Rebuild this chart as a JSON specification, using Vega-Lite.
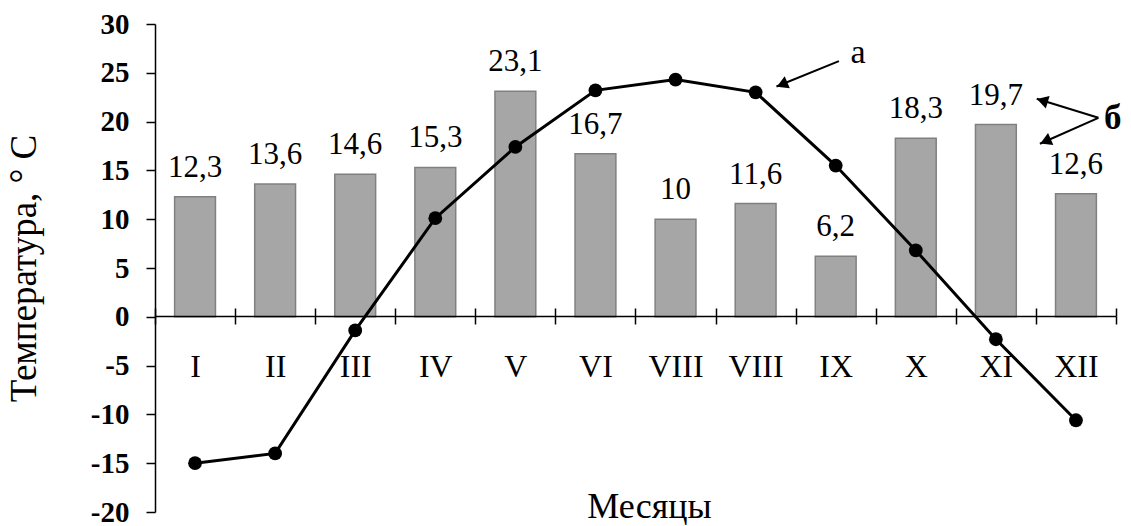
{
  "$schema": "https://vega.github.io/schema/vega-lite/v6.json",
  "width": 961,
  "height": 488,
  "autosize": "none",
  "padding": {"left": 155, "top": 24, "right": 15, "bottom": 14},
  "background": "white",
  "config": {"view": {"stroke": null}, "font": "Liberation Serif"},
  "datasets": {
    "months": [
      {"m": "I", "bar": 12.3, "lbl": "12,3", "t": -15.0},
      {"m": "II", "bar": 13.6, "lbl": "13,6", "t": -14.0},
      {"m": "III", "bar": 14.6, "lbl": "14,6", "t": -1.4},
      {"m": "IV", "bar": 15.3, "lbl": "15,3", "t": 10.1},
      {"m": "V", "bar": 23.1, "lbl": "23,1", "t": 17.4},
      {"m": "VI", "bar": 16.7, "lbl": "16,7", "t": 23.2},
      {"m": "VII", "bar": 10.0, "lbl": "10", "t": 24.3},
      {"m": "VIII", "bar": 11.6, "lbl": "11,6", "t": 23.0},
      {"m": "IX", "bar": 6.2, "lbl": "6,2", "t": 15.5},
      {"m": "X", "bar": 18.3, "lbl": "18,3", "t": 6.8},
      {"m": "XI", "bar": 19.7, "lbl": "19,7", "t": -2.3},
      {"m": "XII", "bar": 12.6, "lbl": "12,6", "t": -10.6}
    ],
    "notes": [
      {"id": "a", "x": 8.78, "y": 26.0, "txt": "а"},
      {"id": "b", "x": 11.96, "y": 19.2, "txt": "б"}
    ],
    "arrows": [
      {"id": "a", "x": 8.54, "y": 26.2, "x2": 7.76, "y2": 23.6},
      {"id": "b1", "x": 11.78, "y": 20.39, "x2": 11.01, "y2": 22.34},
      {"id": "b2", "x": 11.78, "y": 20.39, "x2": 11.05, "y2": 17.73}
    ],
    "heads": [
      {"id": "a", "x": 7.83, "y": 23.8},
      {"id": "b1", "x": 11.08, "y": 22.15},
      {"id": "b2", "x": 11.12, "y": 17.98}
    ]
  },
  "layer": [
    {
      "data": {"name": "months"},
      "encoding": {
        "x": {
          "field": "m", "type": "ordinal", "sort": null,
          "scale": {"paddingInner": 0, "paddingOuter": 0},
          "axis": {
            "orient": "bottom", "offset": -196, "zindex": 1,
            "domainColor": "black", "domainWidth": 1.5,
            "tickBand": "extent", "tickColor": "black", "tickWidth": 1.5, "tickSize": 8,
            "labelAngle": 0, "labelFont": "Liberation Serif", "labelFontSize": 32, "labelColor": "black",
            "labelBaseline": "alphabetic", "labelPadding": 52,
            "labelExpr": "datum.value == 'VII' ? 'VIII' : datum.value",
            "title": "Месяцы", "titleFont": "Liberation Serif", "titleFontSize": 36, "titleFontWeight": "normal",
            "titleColor": "black", "titleX": 494, "titleY": 201, "titleBaseline": "alphabetic", "titleAlign": "center"
          }
        }
      },
      "layer": [
        {
          "mark": {"type": "bar", "fill": "#a6a6a6", "stroke": "#808080", "strokeWidth": 1.5, "width": {"band": 0.51}},
          "encoding": {
            "y": {
              "field": "bar", "type": "quantitative",
              "scale": {"domain": [-20, 30], "nice": false, "zero": false},
              "axis": {
                "values": [-20, -15, -10, -5, 0, 5, 10, 15, 20, 25, 30],
                "labelExpr": "'' + datum.value",
                "grid": false, "domainColor": "black", "domainWidth": 1.5,
                "tickColor": "black", "tickWidth": 1.5, "tickSize": 9,
                "labelFont": "Liberation Serif", "labelFontSize": 29, "labelFontWeight": "bold",
                "labelColor": "black", "labelPadding": 17,
                "title": "Температура, ° C", "titleFont": "Liberation Serif", "titleFontSize": 37,
                "titleFontWeight": "normal", "titleColor": "black",
                "titleX": -120, "titleY": 244, "titleAngle": -90, "titleBaseline": "alphabetic", "titleAlign": "center"
              }
            },
            "y2": {"datum": 0}
          }
        },
        {
          "mark": {"type": "text", "fontSize": 31, "color": "black", "baseline": "alphabetic", "dy": -20, "font": "Liberation Serif"},
          "encoding": {
            "y": {"field": "bar", "type": "quantitative"},
            "text": {"field": "lbl"}
          }
        },
        {
          "mark": {"type": "line", "color": "black", "strokeWidth": 3,
                   "point": {"filled": true, "size": 190, "color": "black"}},
          "encoding": {
            "y": {"field": "t", "type": "quantitative"}
          }
        }
      ]
    },
    {
      "data": {"name": "months"},
      "mark": {"type": "point", "opacity": 0},
      "encoding": {
        "x": {
          "field": "m", "type": "ordinal", "sort": null,
          "scale": {"paddingInner": 0, "paddingOuter": 0},
          "axis": {
            "orient": "top", "offset": -292, "zindex": 1,
            "domain": false, "labels": false, "title": null,
            "tickBand": "extent", "tickColor": "black", "tickWidth": 1.5, "tickSize": 8
          }
        },
        "y": {"datum": 0, "type": "quantitative"}
      }
    },
    {
      "layer": [
        {
          "data": {"name": "arrows"},
          "mark": {"type": "rule", "color": "black", "strokeWidth": 2},
          "encoding": {
            "x": {"field": "x", "type": "quantitative", "scale": {"domain": [0, 12], "nice": false, "zero": false}, "axis": null},
            "y": {"field": "y", "type": "quantitative"},
            "x2": {"field": "x2"},
            "y2": {"field": "y2"}
          }
        },
        {
          "data": {"name": "heads"},
          "transform": [{"filter": "datum.id == 'a'"}],
          "mark": {"type": "point", "shape": "triangle-up", "filled": true, "color": "black", "size": 170, "angle": 247, "opacity": 1},
          "encoding": {
            "x": {"field": "x", "type": "quantitative", "axis": null},
            "y": {"field": "y", "type": "quantitative"}
          }
        },
        {
          "data": {"name": "heads"},
          "transform": [{"filter": "datum.id == 'b1'"}],
          "mark": {"type": "point", "shape": "triangle-up", "filled": true, "color": "black", "size": 170, "angle": 287, "opacity": 1},
          "encoding": {
            "x": {"field": "x", "type": "quantitative", "axis": null},
            "y": {"field": "y", "type": "quantitative"}
          }
        },
        {
          "data": {"name": "heads"},
          "transform": [{"filter": "datum.id == 'b2'"}],
          "mark": {"type": "point", "shape": "triangle-up", "filled": true, "color": "black", "size": 170, "angle": 246, "opacity": 1},
          "encoding": {
            "x": {"field": "x", "type": "quantitative", "axis": null},
            "y": {"field": "y", "type": "quantitative"}
          }
        },
        {
          "data": {"name": "notes"},
          "transform": [{"filter": "datum.id == 'a'"}],
          "mark": {"type": "text", "fontSize": 34, "color": "black", "baseline": "alphabetic", "font": "Liberation Serif"},
          "encoding": {
            "x": {"field": "x", "type": "quantitative", "axis": null},
            "y": {"field": "y", "type": "quantitative"},
            "text": {"field": "txt"}
          }
        },
        {
          "data": {"name": "notes"},
          "transform": [{"filter": "datum.id == 'b'"}],
          "mark": {"type": "text", "fontSize": 35, "fontWeight": "bold", "color": "black", "baseline": "alphabetic", "font": "Liberation Serif"},
          "encoding": {
            "x": {"field": "x", "type": "quantitative", "axis": null},
            "y": {"field": "y", "type": "quantitative"},
            "text": {"field": "txt"}
          }
        }
      ]
    }
  ],
  "resolve": {"scale": {"x": "independent"}, "axis": {"x": "independent"}}
}
